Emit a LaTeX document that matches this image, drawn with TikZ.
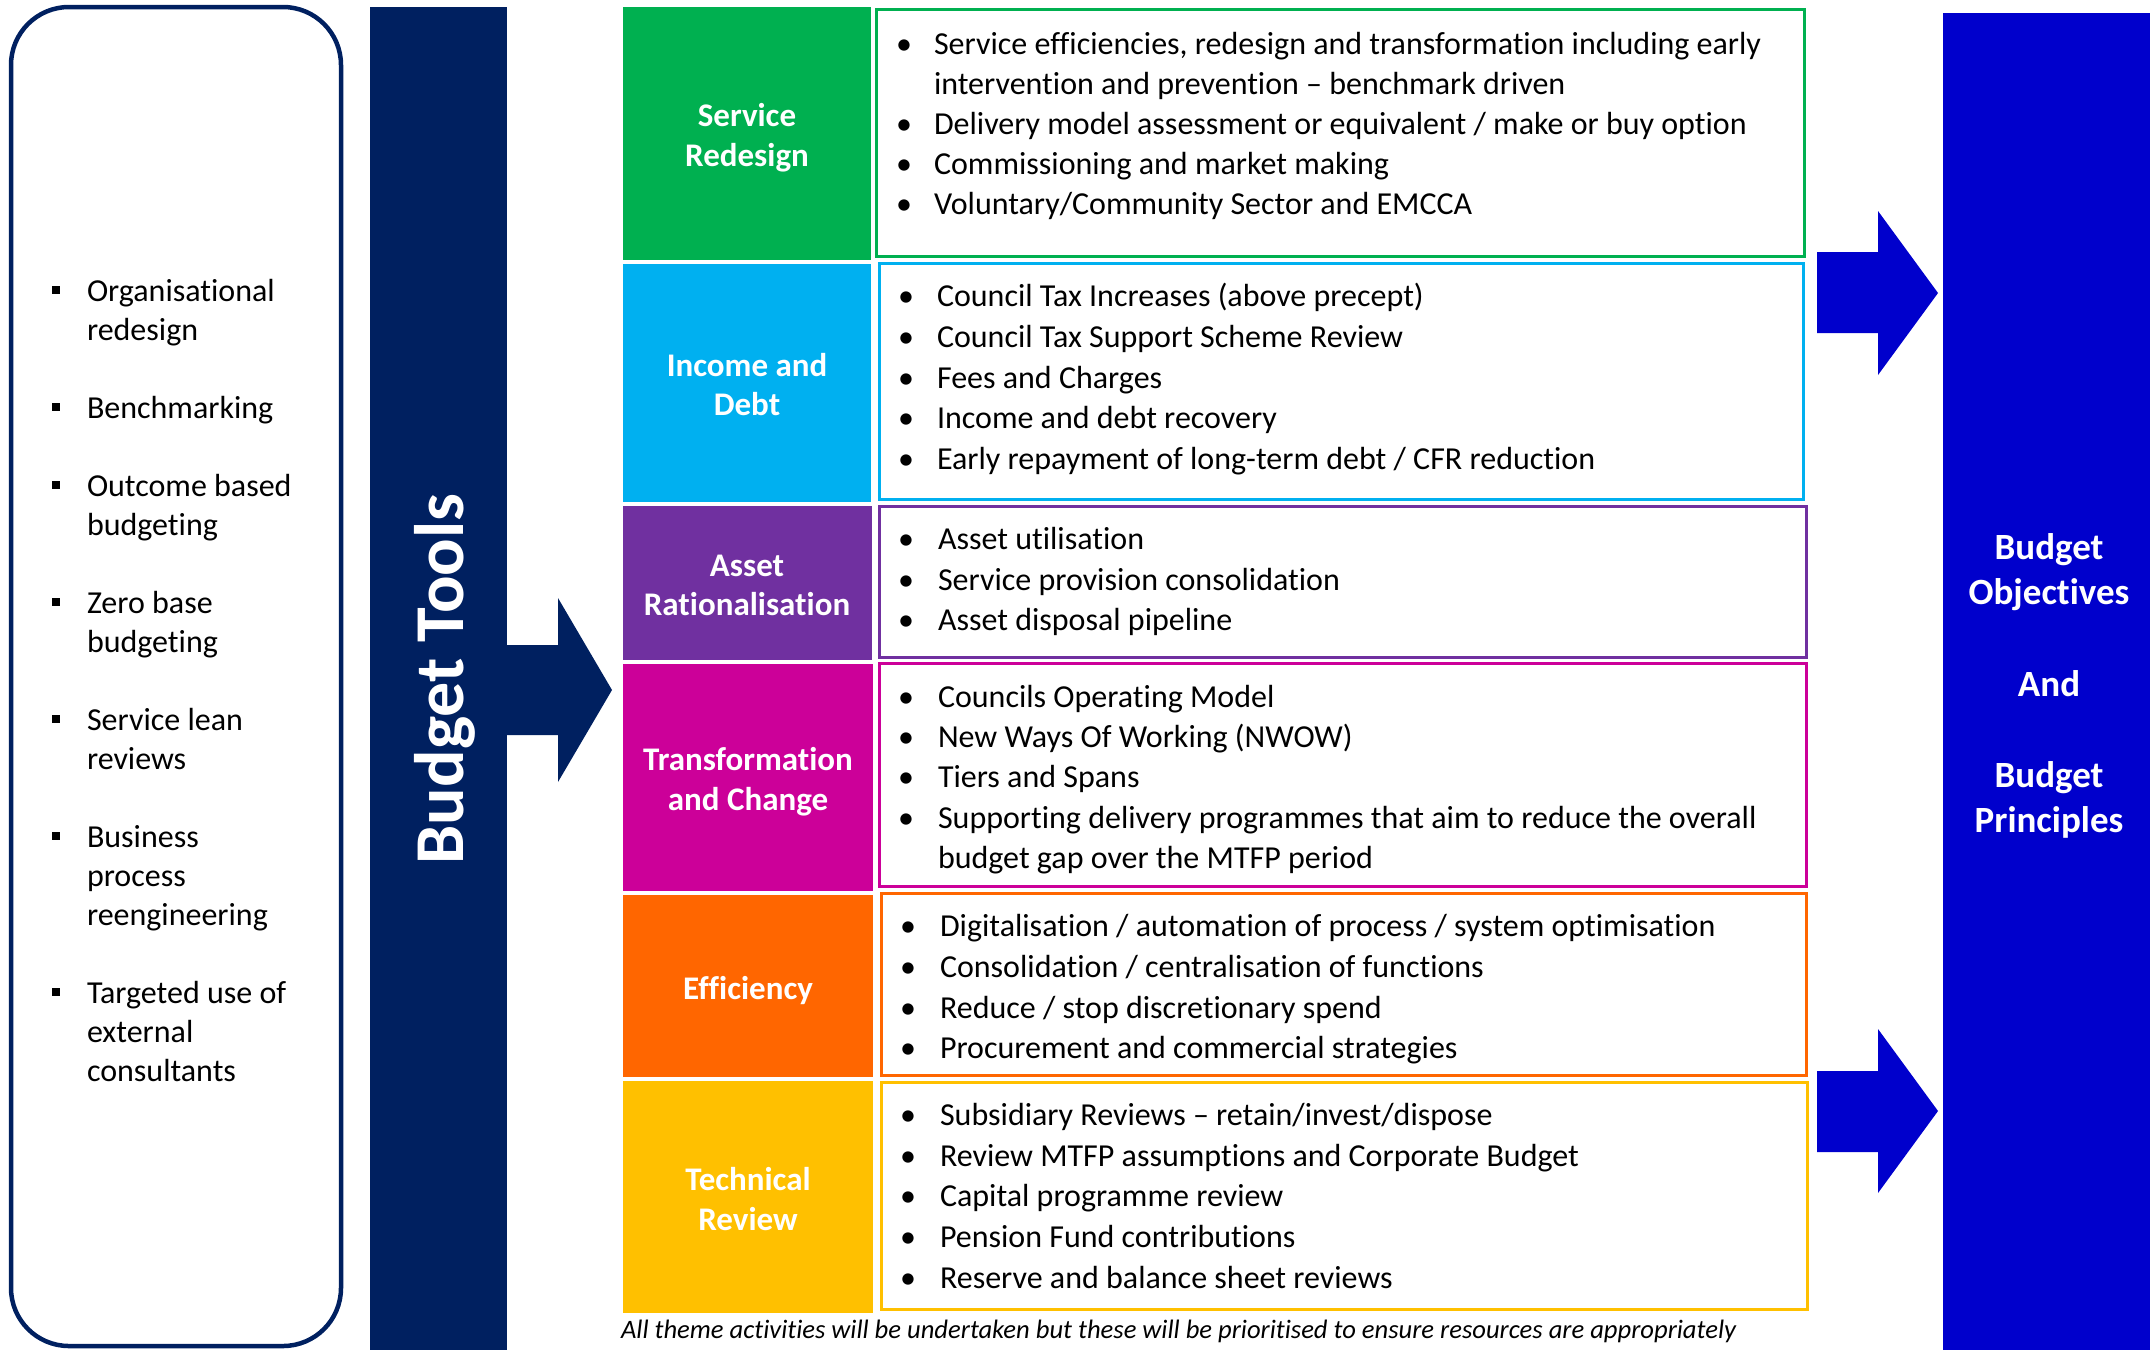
\documentclass[tikz,border=0pt]{standalone}
\usepackage{fontspec}
\setmainfont{Carlito}[Ligatures=NoCommon,Contextuals=NoAlternate,RawFeature=-clig]
\definecolor{navy}{HTML}{002060}
\definecolor{objblue}{HTML}{0000CC}
\definecolor{cgreen}{HTML}{00B050}
\definecolor{cblue}{HTML}{00B0F0}
\definecolor{cpurple}{HTML}{7030A0}
\definecolor{cmag}{HTML}{CC0099}
\definecolor{corange}{HTML}{FF6600}
\definecolor{cyellow}{HTML}{FFC000}
\newcommand\bitem[5]{%
  \node[bdot] (#1d) at (#2,#4) {\textbullet};
  \node[btxt] (#1) at (#3,#4) {#5};}
\newcommand\bcont[4]{\node[btxt] (#1) at (#2,#3) {#4};}
\begin{document}
\begin{tikzpicture}[x=0.5pt,y=-0.5pt,
  every node/.style={inner sep=0pt,outer sep=0pt},
  btxt/.style={anchor=base west,font=\fontsize{16pt}{20pt}\selectfont},
  bdot/.style={anchor=base,font=\fontsize{16pt}{20pt}\selectfont},
  ltxt/.style={anchor=base west,font=\fontsize{16pt}{20pt}\selectfont},
  lbl/.style={anchor=base,text=white,font=\fontsize{16.5pt}{20pt}\selectfont\bfseries},
  obj/.style={anchor=base,text=white,font=\fontsize{18.5pt}{22pt}\selectfont\bfseries},
  tbox/.style={line width=1.5pt},
  sq/.style={fill=black}]
\useasboundingbox (0,0) rectangle (2150,1350);
% left rounded box
\draw[navy,line width=2.25pt,rounded corners=29pt] (11,7) rectangle (341,1346);
% left list
\foreach \k/\t [count=\i] in {0/Organisational,1/redesign,3/Benchmarking,5/Outcome based,6/budgeting,8/Zero base,9/budgeting,11/Service lean,12/reviews,14/Business,15/process,16/reengineering,18/Targeted use of,19/external,20/consultants}
  {\node[ltxt] (l\i) at (87,{301+39*\k}) {\t};}
\foreach \k in {0,3,5,8,11,14,18}
  {\fill[sq] (52,{301+39*\k-7}) rectangle (60,{301+39*\k-15});}
% Budget Tools bar
\fill[navy] (370,7) rectangle (507,1350);
\node[rotate=90,anchor=base,text=white,font=\fontsize{35pt}{42pt}\selectfont\bfseries] (bt) at (463,679) {Budget Tools};
\fill[navy] (507,645) -- (558,645) -- (558,598) -- (612,690) -- (558,782) -- (558,735) -- (507,735) -- cycle;
% colored blocks
\fill[cgreen]  (623,7)   rectangle (871,260);
\fill[cblue]   (623,264) rectangle (871,502);
\fill[cpurple] (623,506) rectangle (872,660);
\fill[cmag]    (623,664) rectangle (873,891);
\fill[corange] (623,895) rectangle (873,1077);
\fill[cyellow] (623,1081) rectangle (873,1313);
\node[lbl] (sr1) at (747,126) {Service};
\node[lbl] (sr2) at (747,166) {Redesign};
\node[lbl] (id1) at (747,376) {Income and};
\node[lbl] (id2) at (747,415) {Debt};
\node[lbl] (ar1) at (747,576) {Asset};
\node[lbl] (ar2) at (747,615) {Rationalisation};
\node[lbl] (tc1) at (748,770) {Transformation};
\node[lbl] (tc2) at (748,810) {and Change};
\node[lbl] (ef1) at (748,999) {Efficiency};
\node[lbl] (tr1) at (748,1190) {Technical};
\node[lbl] (tr2) at (748,1230) {Review};
% text boxes
\draw[tbox,cgreen]  (876,9)    rectangle (1804,256);
\draw[tbox,cblue]   (879,263)  rectangle (1803,499);
\draw[tbox,cpurple] (879,506)  rectangle (1806,657);
\draw[tbox,cmag]    (879,663)  rectangle (1806,886);
\draw[tbox,corange] (881,893)  rectangle (1806,1075);
\draw[tbox,cyellow] (881,1082) rectangle (1807,1309);
% green items
\bitem{g1}{904}{934}{54}{Service efficiencies, redesign and transformation including early}
\bcont{g1b}{934}{94}{intervention and prevention -- benchmark driven}
\bitem{g2}{904}{934}{134}{Delivery model assessment or equivalent / make or buy option}
\bitem{g3}{904}{934}{174}{Commissioning and market making}
\bitem{g4}{904}{934}{214}{Voluntary/Community Sector and EMCCA}
% blue items
\bitem{b1}{906}{937}{306}{Council Tax Increases (above precept)}
\bitem{b2}{906}{937}{347}{Council Tax Support Scheme Review}
\bitem{b3}{906}{937}{388}{Fees and Charges}
\bitem{b4}{906}{937}{428}{Income and debt recovery}
\bitem{b5}{906}{937}{469}{Early repayment of long-term debt / CFR reduction}
% purple items
\bitem{p1}{906}{938}{549}{Asset utilisation}
\bitem{p2}{906}{938}{590}{Service provision consolidation}
\bitem{p3}{906}{938}{630}{Asset disposal pipeline}
% magenta items
\bitem{m1}{906}{938}{707}{Councils Operating Model}
\bitem{m2}{906}{938}{747}{New Ways Of Working (NWOW)}
\bitem{m3}{906}{938}{787}{Tiers and Spans}
\bitem{m4}{906}{938}{828}{Supporting delivery programmes that aim to reduce the overall}
\bcont{m4b}{938}{868}{budget gap over the MTFP period}
% orange items
\bitem{o1}{908}{940}{936}{Digitalisation / automation of process / system optimisation}
\bitem{o2}{908}{940}{977}{Consolidation / centralisation of functions}
\bitem{o3}{908}{940}{1018}{Reduce / stop discretionary spend}
\bitem{o4}{908}{940}{1058}{Procurement and commercial strategies}
% yellow items
\bitem{y1}{908}{940}{1125}{Subsidiary Reviews -- retain/invest/dispose}
\bitem{y2}{908}{940}{1166}{Review MTFP assumptions and Corporate Budget}
\bitem{y3}{908}{940}{1206}{Capital programme review}
\bitem{y4}{908}{940}{1247}{Pension Fund contributions}
\bitem{y5}{908}{940}{1288}{Reserve and balance sheet reviews}
% footnote
\node[anchor=base west,font=\fontsize{13.3pt}{16pt}\selectfont\itshape] (fn) at (621,1338) {All theme activities will be undertaken but these will be prioritised to ensure resources are appropriately};
% blue arrows
\fill[objblue] (1817,252) -- (1878,252) -- (1878,211) -- (1938,293) -- (1878,375) -- (1878,333) -- (1817,333) -- cycle;
\fill[objblue] (1817,1071) -- (1878,1071) -- (1878,1029) -- (1938,1111) -- (1878,1193) -- (1878,1152) -- (1817,1152) -- cycle;
% right box
\fill[objblue] (1943,13) rectangle (2150,1350);
\node[obj] (ob1) at (2049,559) {Budget};
\node[obj] (ob2) at (2049,604) {Objectives};
\node[obj] (ob3) at (2049,696) {And};
\node[obj] (ob4) at (2049,787) {Budget};
\node[obj] (ob5) at (2049,832) {Principles};
\end{tikzpicture}
\end{document}
